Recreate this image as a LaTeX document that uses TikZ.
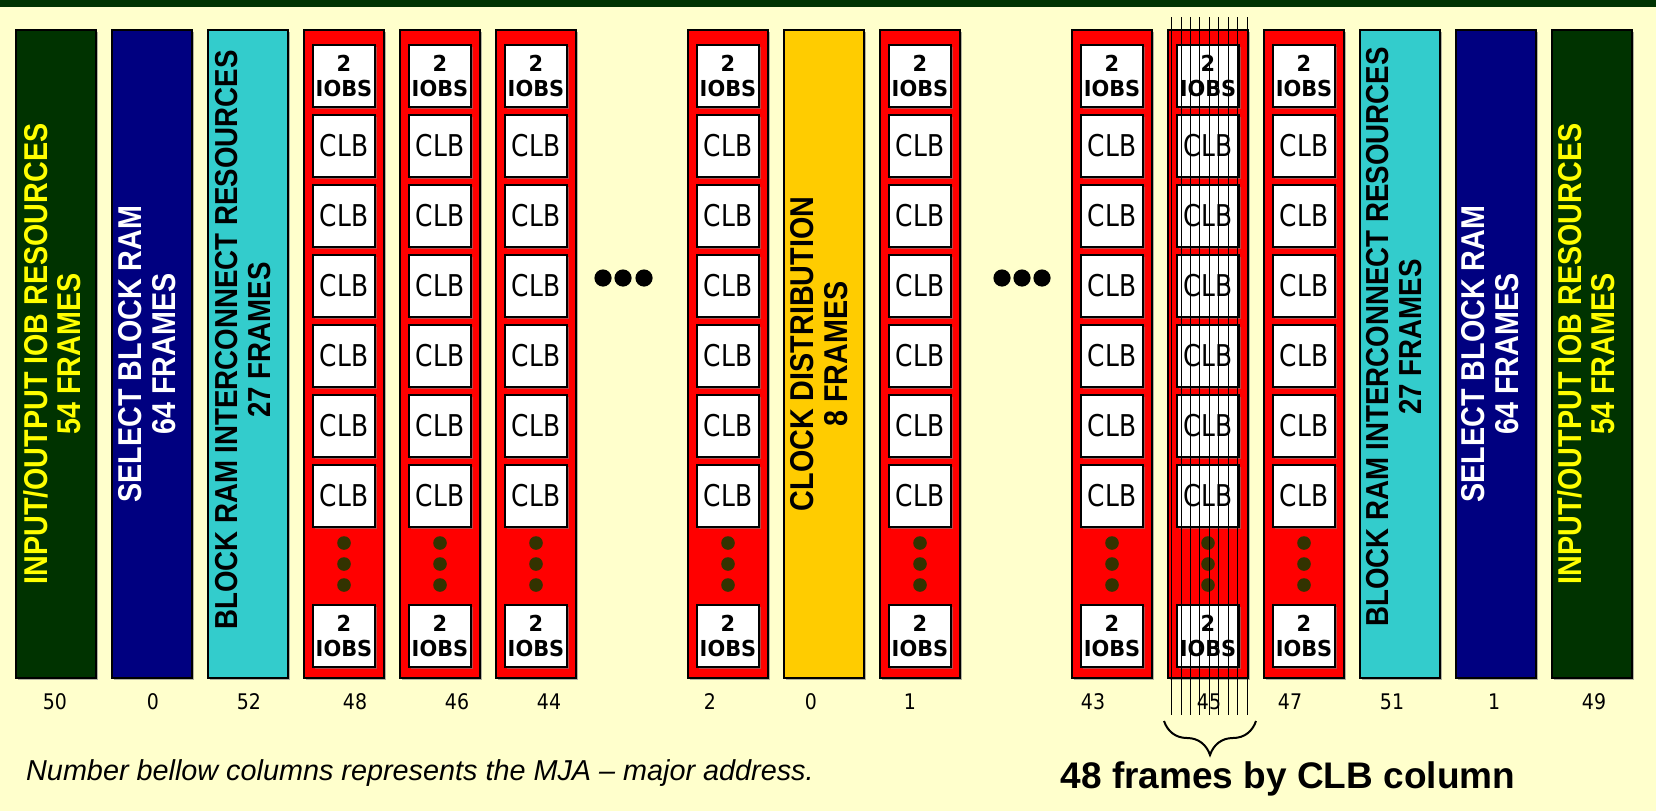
\documentclass[tikz,border=0pt]{standalone}
\usepackage{fontspec}
\setmainfont{Liberation Sans}
\newfontfamily\vertfont[FakeStretch=0.87]{Liberation Sans}
\newfontfamily\clbfont[FakeStretch=0.83]{DejaVu Sans}
\newfontfamily\iobfont[FakeStretch=0.95]{DejaVu Sans}
\newfontfamily\mjafont[FakeStretch=0.88]{DejaVu Sans}
\usetikzlibrary{decorations.pathreplacing,shadows}
\definecolor{fpgabg}{HTML}{FFFFCC}
\definecolor{fpgagreen}{HTML}{003300}
\definecolor{fpganavy}{HTML}{000080}
\definecolor{fpgacyan}{HTML}{33CCCC}
\definecolor{fpgagold}{HTML}{FFCC00}
\definecolor{fpgared}{HTML}{FF0000}
\definecolor{fpgadot}{HTML}{333300}
\definecolor{fpgayellow}{HTML}{FFFF00}
\tikzset{
  colbox/.style={draw=black,line width=1.8pt,minimum width=80pt,minimum height=648pt,inner sep=0pt,
    drop shadow={shadow xshift=1.5pt,shadow yshift=-1.5pt,opacity=0.6}},
  iocol/.style={colbox,fill=fpgagreen},
  bramcol/.style={colbox,fill=fpganavy},
  intcol/.style={colbox,fill=fpgacyan},
  clkcol/.style={colbox,fill=fpgagold},
  clbcol/.style={colbox,fill=fpgared},
  cell/.style={draw=black,line width=2.5pt,fill=white,minimum size=62pt,inner sep=0pt,
    drop shadow={shadow xshift=1.5pt,shadow yshift=-1.5pt,opacity=0.6}},
  clb/.style={cell,font=\clbfont\fontsize{30}{30}\selectfont},
  iob/.style={cell,align=center,font=\iobfont\bfseries\fontsize{22}{25}\selectfont},
  vlab/.style={rotate=90,align=center,inner sep=0pt,font=\vertfont\bfseries\fontsize{#1}{33.5}\selectfont},
  mja/.style={font=\mjafont\fontsize{21.5}{21.5}\selectfont,inner sep=0pt},
  frameln/.style={black,line width=0.9pt},
  brc/.style={decorate,decoration={brace,amplitude=34pt},line width=2pt},
}
\begin{document}
\begin{tikzpicture}[x=1pt,y=-1pt]
  \fill[fpgabg] (0,0) rectangle (1656,811);
  \fill[fpgagreen] (0,0) rectangle (1656,7);

  % resource columns
  \node[iocol] (io50) at (56,354) {};
  \node[bramcol] (bram0) at (152,354) {};
  \node[intcol] (int52) at (248,354) {};
  \node[clkcol] (clk0) at (824,354) {};
  \node[intcol] (int51) at (1400,354) {};
  \node[bramcol] (bram1) at (1496,354) {};
  \node[iocol] (io49) at (1592,354) {};
  \node[vlab=33,fpgayellow] (io50lab) at (52,354) {INPUT/OUTPUT IOB RESOURCES\\54 FRAMES};
  \node[vlab=33,white] (bram0lab) at (147,354) {SELECT BLOCK RAM\\64 FRAMES};
  \node[vlab=31.8,black] (int52lab) at (243,340) {BLOCK RAM INTERCONNECT RESOURCES\\27 FRAMES};
  \node[vlab=33,black] (clk0lab) at (819,354) {CLOCK DISTRIBUTION\\8 FRAMES};
  \node[vlab=31.8,black] (int51lab) at (1394,337) {BLOCK RAM INTERCONNECT RESOURCES\\27 FRAMES};
  \node[vlab=33,white] (bram1lab) at (1490,354) {SELECT BLOCK RAM\\64 FRAMES};
  \node[vlab=33,fpgayellow] (io49lab) at (1586,354) {INPUT/OUTPUT IOB RESOURCES\\54 FRAMES};

  % CLB columns
  \foreach \k in {3,4,5,7,9,11,12,13} {
    \pgfmathsetmacro\cx{56+96*\k}
    \node[clbcol] (clbcol\k) at (\cx,354) {};
    \node[iob] (iobtop\k) at (\cx,76) {2\\IOBS};
    \foreach \r in {0,...,5}
      \node[clb] (clb\k-\r) at (\cx,146+70*\r) {CLB};
    \foreach \d in {543,564,585}
      \fill[fpgadot] (\cx,\d) circle (6.8pt);
    \node[iob] (iobbot\k) at (\cx,636) {2\\IOBS};
  }

  \foreach \x in {603,623,644,1002,1022,1042}
    \fill (\x,278) circle (8.6pt);

  % frames of column 45
  \foreach \i in {0,...,8}
    \draw[frameln] (1171.7+9.41*\i,17) -- (1171.7+9.41*\i,715);

  \foreach \x/\t in {55/50,153/0,249/52,355/48,457/46,549/44,710/2,811/0,910/1,1093/43,1209/45,1290/47,1392/51,1494/1,1594/49}
    \node[mja] (mja\x) at (\x,702) {\t};

  \coordinate (brl) at (1164,721);
  \coordinate (brr) at (1256,721);
  \draw[brc] (brr) -- (brl);
  \node[font=\bfseries\fontsize{37}{37}\selectfont,anchor=base,inner sep=0pt] (clbnote) at (1288,788) {48 frames by CLB column};
  \node[font=\itshape\fontsize{28.8}{28.8}\selectfont,anchor=base west,inner sep=0pt] (mjanote) at (26,780) {Number bellow columns represents the MJA – major address.};
\end{tikzpicture}
\end{document}
